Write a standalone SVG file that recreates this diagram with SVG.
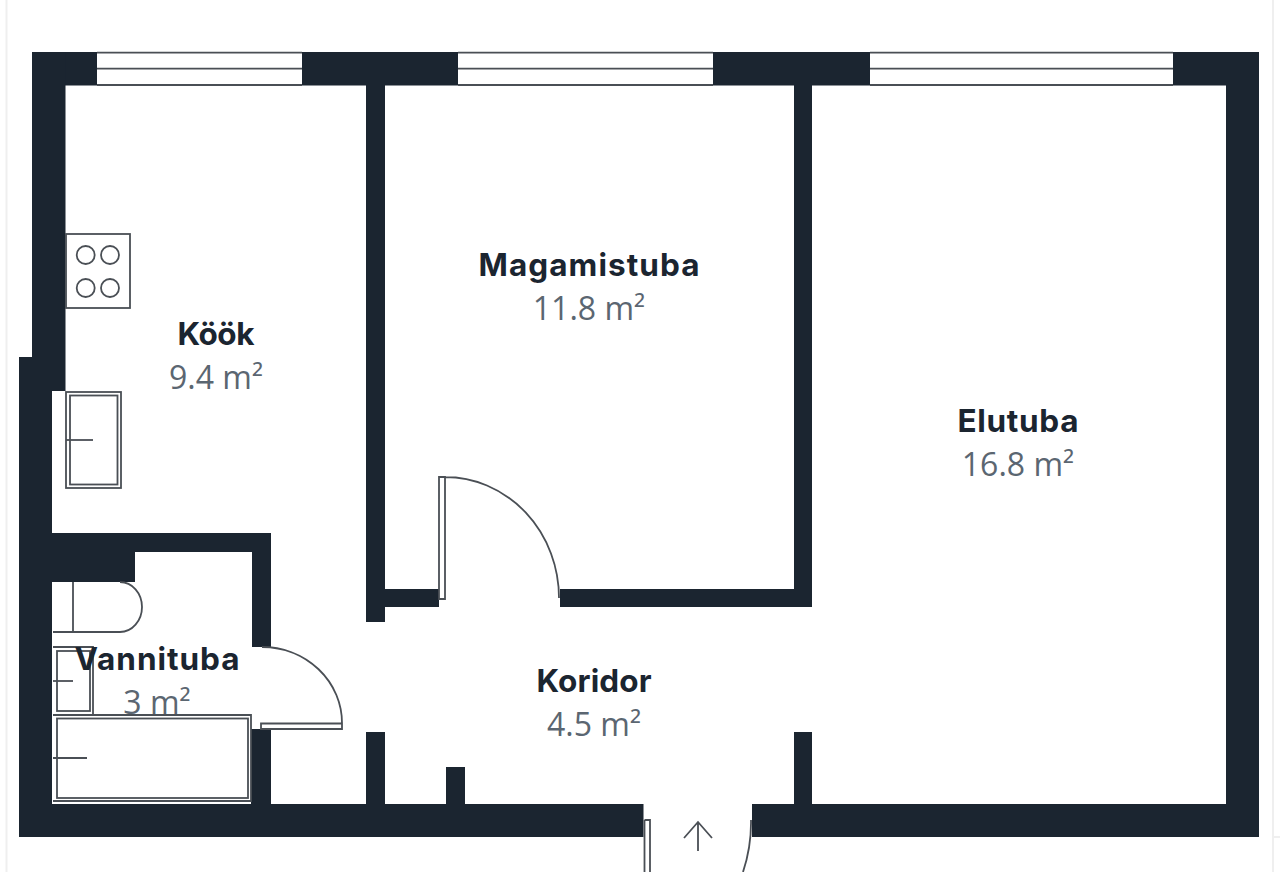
<svg xmlns="http://www.w3.org/2000/svg" width="1280" height="872" viewBox="0 0 1280 872">
<style>
.w{fill:#1b2530}
.l{fill:none;stroke:#4a4f55;stroke-width:1.800}
.g{fill:none;stroke:#efefef;stroke-width:2}
.n{font-family:"Inter","Liberation Sans",sans-serif;font-weight:700;font-size:31.500px;fill:#1b2530;text-anchor:middle}
.a{font-family:"Open Sans","Liberation Sans",sans-serif;font-size:32px;fill:#5b6671;text-anchor:middle}
</style>
<rect width="1280" height="872" fill="#fff"/>
<g id="page-edge"><path class="g" d="M6.500 0V872M1273 0V872M1273 837H1280"/></g>
<g id="walls">
<rect class="w" x="32" y="52" width="65" height="33.500"/>
<rect class="w" x="302" y="52" width="156" height="33.500"/>
<rect class="w" x="713" y="52" width="157" height="33.500"/>
<rect class="w" x="1173" y="52" width="86" height="33.500"/>
<rect class="w" x="32" y="52" width="33.500" height="339"/>
<rect class="w" x="19" y="357" width="33" height="480"/>
<rect class="w" x="1226" y="52" width="33" height="785"/>
<rect class="w" x="19" y="804" width="624.500" height="33"/>
<rect class="w" x="752" y="804" width="507" height="33"/>
<rect class="w" x="366" y="85" width="19" height="537"/>
<rect class="w" x="385" y="589" width="54" height="18"/>
<rect class="w" x="560" y="589" width="252" height="18"/>
<rect class="w" x="794" y="85" width="18" height="522"/>
<rect class="w" x="366" y="732" width="19" height="72"/>
<rect class="w" x="446" y="767" width="19" height="37"/>
<rect class="w" x="794" y="732" width="18" height="72"/>
<rect class="w" x="52" y="533" width="219" height="19"/>
<rect class="w" x="52" y="552" width="83" height="30"/>
<rect class="w" x="252" y="552" width="19" height="95"/>
<rect class="w" x="251" y="729" width="20" height="75"/>
</g>
<g id="windows">
<path class="l" d="M97 52.700H302M97 68.700H302M97 85H302M458 52.700H713M458 68.700H713M458 85H713M870 52.700H1173M870 68.700H1173M870 85H1173"/>
</g>
<g id="doors">
<path class="l" d="M439 477H445V599H439ZM445 477A114 121 0 0 1 559 598"/>
<path class="l" d="M261 723.500H342V729H261ZM262 647A80 76 0 0 1 342 723"/>
<path class="l" d="M644.500 820H650V872M644.500 820V872M751 820A155 155 0 0 1 743 872"/>
</g>
<g id="fixtures">
<rect class="l" x="66" y="234" width="64" height="74"/>
<circle class="l" cx="85.700" cy="255" r="9"/>
<circle class="l" cx="110" cy="255" r="9"/>
<circle class="l" cx="85.700" cy="288" r="9"/>
<circle class="l" cx="110" cy="288" r="9"/>
<rect class="l" x="66" y="392" width="55" height="96"/>
<rect class="l" x="70" y="395.500" width="47.500" height="89"/>
<path class="l" d="M66 440H93"/>
<path class="l" d="M53 632H120A22 25 0 0 0 120 582M73 582V632"/>
<path class="l" d="M53 647H93V714M53 715H251V801H53"/>
<rect class="l" x="57" y="651" width="33" height="60"/>
<path class="l" d="M53 681H73"/>
<rect class="l" x="57" y="718.500" width="191" height="79.500"/>
<path class="l" d="M53 758H87"/>
</g>
<g id="entry-arrow"><path class="l" d="M698 851V822M684 838L698 822L712 838"/></g>
<g id="room-kook"><text class="n" x="216" y="345" textLength="77">Köök</text><text class="a" x="216" y="389">9.4 m²</text></g>
<g id="room-magamistuba"><text class="n" x="589" y="276" textLength="221">Magamistuba</text><text class="a" x="589" y="320">11.8 m²</text></g>
<g id="room-elutuba"><text class="n" x="1018" y="432" textLength="121">Elutuba</text><text class="a" x="1018" y="476">16.8 m²</text></g>
<g id="room-koridor"><text class="n" x="594" y="692" textLength="115">Koridor</text><text class="a" x="594" y="736">4.5 m²</text></g>
<g id="room-vannituba"><text class="n" x="157" y="670" textLength="165">Vannituba</text><text class="a" x="157" y="714">3 m²</text></g>
</svg>
